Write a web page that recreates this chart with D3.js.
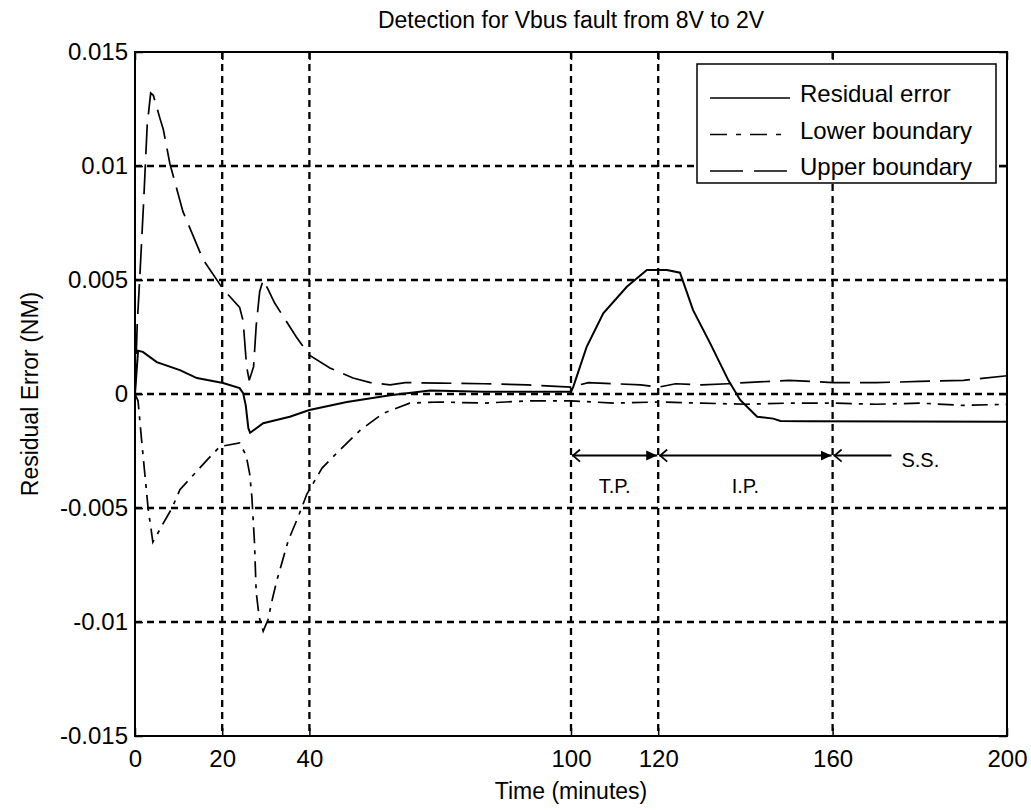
<!DOCTYPE html>
<html>
<head>
<meta charset="utf-8">
<script src="https://cdn.jsdelivr.net/npm/d3@7"></script>
<style>
  body { margin: 0; background: #fff; }
  svg { display: block; font-family: "Liberation Sans", Arial, sans-serif; }
</style>
</head>
<body>
<div id="chart"></div>
<script>
// values: [time (min), residual (NM)]
const residualError = [
  [0, 0], [0.7, 0.0019], [1.8, 0.00185], [5, 0.0014], [10.3, 0.00105], [14.2, 0.0007],
  [20.2, 0.00048], [24, 0.00026], [24.8, 0.00004], [25.4, -0.0005], [26, -0.0015],
  [26.4, -0.0017], [29.4, -0.00128], [35.5, -0.001], [40, -0.0007], [48.6, -0.00035],
  [58.5, -0.00005], [67.7, 0.00015], [80, 0.0001], [90, 0.0001], [100, 0.0001],
  [100.5, 0.0003], [103.6, 0.00207], [107.4, 0.00354], [112.8, 0.0047], [117.4, 0.00544],
  [122, 0.00544], [125, 0.00532], [128, 0.00368], [131.9, 0.00223], [136.1, 0.0006],
  [138.8, -0.00026], [142.7, -0.001], [146.4, -0.00108], [148, -0.00118], [154, -0.0012],
  [200, -0.00122]
];
const lowerBoundary = [
  [0, 0], [0.7, -0.0003], [1.5, -0.002], [3, -0.005], [4.1, -0.0065], [6.4, -0.0057],
  [8.5, -0.005], [10.3, -0.0042], [16.5, -0.0029], [19.5, -0.0023], [24, -0.00215],
  [25.5, -0.0027], [26.3, -0.0035], [26.8, -0.0045], [27.4, -0.0065], [27.8, -0.0087],
  [28.5, -0.0098], [29.4, -0.0104], [30.5, -0.0099], [31.5, -0.009], [32.5, -0.0082],
  [35.2, -0.0064], [37.4, -0.0054], [39.4, -0.0044], [42.9, -0.00325], [47, -0.00245],
  [51.6, -0.0016], [56.9, -0.00085], [63, -0.0004], [70, -0.00035], [80, -0.0004],
  [90, -0.0003], [100, -0.0003], [110, -0.0004], [120, -0.00035], [130, -0.0004],
  [140, -0.00045], [150, -0.0004], [160, -0.0004], [170, -0.00045], [180, -0.0004],
  [190, -0.0005], [200, -0.00045]
];
const upperBoundary = [
  [0, 0], [0.5, 0.003], [1.2, 0.0055], [2, 0.0085], [2.8, 0.0118], [3.6, 0.0132],
  [4.2, 0.0131], [5.7, 0.0121], [6.5, 0.0116], [8, 0.0101], [11, 0.008], [15.6, 0.0059],
  [20.2, 0.0046], [24, 0.0038], [24.8, 0.0032], [25.6, 0.0012], [26.2, 0.0006],
  [27.2, 0.0012], [27.8, 0.003], [28.6, 0.0045], [29.4, 0.005], [30.5, 0.0046],
  [32, 0.004], [34, 0.0034], [37, 0.0025], [40, 0.0017], [44.7, 0.00114], [50, 0.0007],
  [54, 0.0005], [58.5, 0.0004], [62, 0.0005], [70, 0.00048], [80, 0.00045], [90, 0.0004],
  [100, 0.0003], [104, 0.0005], [110, 0.00045], [116, 0.0004], [120, 0.0003],
  [124, 0.00045], [130, 0.0004], [136, 0.00045], [140, 0.0005], [150, 0.0006],
  [160, 0.0005], [170, 0.0005], [180, 0.00055], [190, 0.0006], [200, 0.0008]
];

const xTicks = [0, 20, 40, 100, 120, 160, 200];
const yTicks = [-0.015, -0.01, -0.005, 0, 0.005, 0.01, 0.015];
const yTickLabels = ["-0.015", "-0.01", "-0.005", "0", "0.005", "0.01", "0.015"];

const seriesNames = ["Residual error", "Lower boundary", "Upper boundary"];
// phase annotations: [label, start, end]
const phases = [["T.P.", 100, 120], ["I.P.", 120, 160], ["S.S.", 160, 173.5]];
const phaseLevel = -0.0027;

const W = 1031, H = 810;
const margin = {top: 52, right: 24, bottom: 74, left: 135};
const width = W - margin.left - margin.right;
const height = H - margin.top - margin.bottom;

const svg = d3.select("#chart").append("svg").attr("width", W).attr("height", H);
const g = svg.append("g").attr("transform", `translate(${margin.left},${margin.top})`);

const x = d3.scaleLinear().domain([0, 200]).range([0, width]);
const y = d3.scaleLinear().domain([-0.015, 0.015]).range([height, 0]);

// dotted grid
const grid = g.append("g").attr("stroke", "#000").attr("stroke-width", 2.3).attr("stroke-dasharray", "7,5");
grid.selectAll(".gx").data(xTicks.slice(1, -1)).join("line")
  .attr("x1", d => x(d)).attr("x2", d => x(d)).attr("y1", 0).attr("y2", height);
grid.selectAll(".gy").data(yTicks.slice(1, -1)).join("line")
  .attr("x1", 0).attr("x2", width).attr("y1", d => y(d)).attr("y2", d => y(d));

// axes
g.append("g").attr("transform", `translate(0,${height})`)
  .call(d3.axisBottom(x).tickValues(xTicks).tickFormat(d3.format("d")).tickSizeInner(-8).tickSizeOuter(0).tickPadding(14));
g.append("g")
  .call(d3.axisLeft(y).tickValues(yTicks).tickFormat((d, i) => yTickLabels[i]).tickSizeInner(-8).tickSizeOuter(0).tickPadding(7));
g.append("g").call(d3.axisTop(x).tickValues(xTicks).tickFormat("").tickSizeInner(-8).tickSizeOuter(0));
g.append("g").attr("transform", `translate(${width},0)`)
  .call(d3.axisRight(y).tickValues(yTicks).tickFormat("").tickSizeInner(-8).tickSizeOuter(0));
g.selectAll(".domain").remove();
g.selectAll(".tick line").attr("stroke", "#000").attr("stroke-width", 1.5);
g.selectAll(".tick text").attr("fill", "#000").style("font-size", "24px");

g.append("rect").attr("width", width).attr("height", height)
  .attr("fill", "none").attr("stroke", "#000").attr("stroke-width", 2);

// series
const line = d3.line().x(d => x(d[0])).y(d => y(d[1]));
const styles = [
  {data: residualError, dash: null, w: 2},
  {data: lowerBoundary, dash: "16,7,4,7", w: 1.7},
  {data: upperBoundary, dash: "30,10", w: 1.7}
];
g.selectAll(".series").data(styles).join("path")
  .attr("d", d => line(d.data))
  .attr("fill", "none").attr("stroke", "#000")
  .attr("stroke-width", d => d.w)
  .attr("stroke-dasharray", d => d.dash);

// phase arrows
const defs = svg.append("defs");
defs.append("marker").attr("id", "head").attr("viewBox", "0 -6 12 12")
  .attr("refX", 11).attr("refY", 0).attr("markerWidth", 12).attr("markerHeight", 12)
  .attr("markerUnits", "userSpaceOnUse").attr("orient", "auto")
  .append("path").attr("d", "M0,-5L11,0L0,5Z").attr("fill", "#000");
defs.append("marker").attr("id", "chev").attr("viewBox", "-1 -7 11 14")
  .attr("refX", 0).attr("refY", 0).attr("markerWidth", 11).attr("markerHeight", 14)
  .attr("markerUnits", "userSpaceOnUse").attr("orient", "auto")
  .append("path").attr("d", "M8,-6L1,0L8,6").attr("fill", "none").attr("stroke", "#000").attr("stroke-width", 1.8);

phases.forEach(([label, t0, t1], i) => {
  const last = i === phases.length - 1;
  g.append("line")
    .attr("x1", x(t0) + 1).attr("x2", x(t1) - (last ? 0 : 1))
    .attr("y1", y(phaseLevel)).attr("y2", y(phaseLevel))
    .attr("stroke", "#000").attr("stroke-width", 2)
    .attr("marker-start", "url(#chev)")
    .attr("marker-end", last ? null : "url(#head)");
  if (last) {
    g.append("text").attr("x", x(t1) + 10).attr("y", y(phaseLevel) + 11)
      .style("font-size", "20px").text(label);
  } else {
    g.append("text").attr("x", x((t0 + t1) / 2)).attr("y", y(phaseLevel) + 37)
      .attr("text-anchor", "middle").style("font-size", "20px").text(label);
  }
});

// legend
const lg = g.append("g").attr("transform", `translate(${width - 310},12)`);
lg.append("rect").attr("width", 299).attr("height", 119)
  .attr("fill", "#fff").attr("stroke", "#000").attr("stroke-width", 1.5);
const rows = lg.selectAll(".row").data(styles).join("g")
  .attr("transform", (d, i) => `translate(0,${38 + i * 36.5})`);
rows.append("line").attr("x1", 13).attr("x2", 93).attr("y1", -4).attr("y2", -4)
  .attr("stroke", "#000").attr("stroke-width", 1.5)
  .attr("stroke-dasharray", (d, i) => i === 0 ? null : (i === 1 ? "17,9,5,9" : "33,11"));
rows.append("text").attr("x", 103).attr("y", 0)
  .style("font-size", "24px").text((d, i) => seriesNames[i]);

// titles
svg.append("text").attr("x", margin.left + width / 2).attr("y", 28)
  .attr("text-anchor", "middle").style("font-size", "23px")
  .text("Detection for Vbus fault from 8V to 2V");
svg.append("text").attr("x", margin.left + width / 2).attr("y", 799)
  .attr("text-anchor", "middle").style("font-size", "23px").text("Time (minutes)");
svg.append("text").attr("transform", `translate(38,${margin.top + height / 2}) rotate(-90)`)
  .attr("text-anchor", "middle").style("font-size", "23px").text("Residual Error (NM)");
</script>
</body>
</html>
